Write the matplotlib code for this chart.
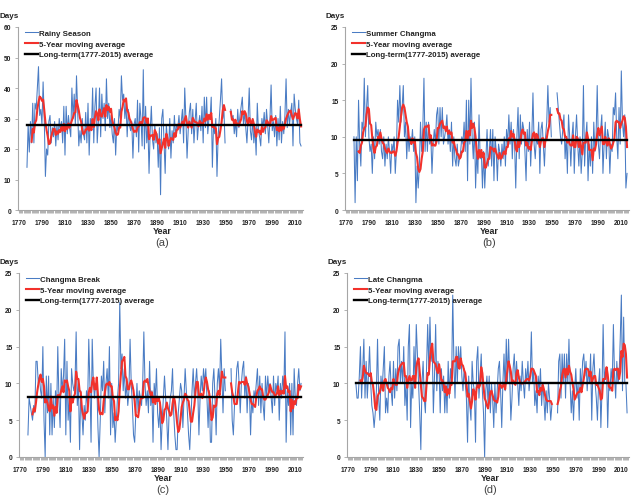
import numpy as np
import pandas as pd
import matplotlib
matplotlib.use("Agg")
import matplotlib.pyplot as plt

plt.rcParams['font.family'] = ['Liberation Sans', 'DejaVu Sans']

start_year = 1777
rainy = [14, 28, 19, 29, 22, 35, 22, 35, 33, 40,
         47, 31, 33, 28, 42, 30, 11, 20, 18, 29,
         31, 22, 27, 24, 29, 21, 28, 23, 30, 26,
         29, 22, 34, 18, 34, 25, 31, 27, 24, 40,
         30, 38, 28, 44, 32, 21, 26, 22, 30, 25,
         23, 32, 22, 35, 18, 30, 26, 40, 22, 34,
         40, 22, 29, 40, 24, 38, 30, 35, 26, 43,
         30, 35, 27, 31, 25, 22, 30, 18, 28, 26,
         33, 30, 44, 36, 38, 30, 35, 24, 33, 28,
         26, 29, 17, 28, 30, 24, 36, 19, 35, 30,
         21, 46, 20, 34, 22, 28, 12, 26, 34, 23,
         20, 28, 22, 25, 14, 27, 5, 30, 33, 22,
         12, 28, 23, 20, 30, 17, 26, 22, 31, 24,
         28, 27, 31, 25, 29, 33, 22, 40, 30, 17,
         26, 32, 35, 25, 33, 22, 29, 35, 23, 28,
         31, 26, 34, 22, 37, 27, 37, 25, 30, 30,
         37, 14, 28, 25, 30, 11, 24, 30, 36, 43,
         30, 33, 22, np.nan, np.nan, np.nan, np.nan, 33, 30, 31,
         25, 29, 24, 33, 27, 31, 34, 37, 28, 32,
         27, 22, 30, 40, 26, 23, 30, 22, 27, 18,
         35, 26, 24, 21, 30, 27, 32, 25, 33, 28,
         22, 30, 41, 26, 29, 24, 31, 21, 30, 23,
         34, 22, 29, 25, 31, 43, 27, 33, 28, 32,
         35, 21, 38, 33, 30, 28, 36, 22, 21]

summer = [10, 1, 10, 4, 15, 9, 6, 12, 11, 18,
          10, 14, 17, 10, 8, 9, 5, 10, 7, 12,
          10, 11, 9, 11, 8, 7, 10, 6, 9, 7,
          10, 8, 5, 9, 8, 10, 5, 8, 15, 12,
          17, 12, 14, 17, 10, 12, 7, 11, 8, 10,
          9, 11, 8, 10, 1, 6, 3, 6, 12, 8,
          11, 18, 8, 12, 8, 12, 9, 10, 5, 9,
          11, 9, 13, 14, 9, 14, 10, 14, 9, 10,
          11, 13, 9, 11, 8, 12, 6, 10, 7, 6,
          9, 6, 7, 8, 10, 9, 12, 8, 15, 4,
          15, 9, 18, 10, 7, 12, 3, 8, 5, 13,
          7, 8, 3, 8, 3, 7, 11, 6, 8, 11,
          6, 11, 4, 10, 8, 4, 9, 8, 6, 9,
          7, 10, 6, 11, 9, 13, 9, 12, 7, 11,
          9, 3, 10, 14, 7, 13, 9, 12, 11, 8,
          4, 11, 8, 12, 6, 10, 16, 9, 7, 10,
          9, 12, 5, 11, 12, 9, 6, 10, 12, 17,
          12, 14, 10, np.nan, np.nan, np.nan, np.nan, 16, 14, 12,
          10, 9, 11, 13, 7, 10, 5, 13, 10, 6,
          10, 12, 5, 10, 13, 9, 6, 10, 5, 8,
          17, 6, 10, 12, 4, 9, 6, 10, 5, 12,
          8, 10, 17, 9, 7, 11, 13, 5, 9, 12,
          7, 11, 10, 5, 9, 8, 14, 13, 16, 10,
          7, 14, 9, 19, 12, 10, 13, 3, 5]

brk = [3, 8, 7, 6, 5, 7, 6, 13, 13, 10,
       11, 9, 8, 15, 5, 0, 11, 6, 11, 3,
       10, 3, 8, 4, 9, 6, 15, 8, 4, 12,
       9, 11, 16, 3, 13, 5, 8, 2, 12, 10,
       9, 10, 17, 7, 10, 1, 9, 6, 3, 7,
       5, 9, 7, 16, 10, 2, 16, 10, 8, 10,
       10, 4, 0, 5, 11, 9, 13, 6, 10, 12,
       8, 15, 3, 10, 4, 6, 2, 5, 8, 10,
       21, 12, 14, 9, 12, 8, 10, 7, 9, 16,
       10, 7, 3, 2, 6, 10, 6, 9, 8, 7,
       10, 17, 10, 7, 9, 6, 13, 7, 9, 2,
       10, 8, 12, 6, 4, 7, 1, 5, 8, 11,
       8, 5, 1, 6, 8, 9, 12, 6, 3, 1,
       1, 6, 8, 10, 9, 4, 8, 12, 9, 6,
       3, 1, 5, 9, 12, 8, 10, 12, 9, 3,
       8, 11, 9, 12, 10, 12, 8, 4, 9, 2,
       2, 10, 12, 8, 3, 10, 12, 9, 16, 11,
       6, 12, 9, np.nan, np.nan, np.nan, np.nan, 12, 5, 3,
       7, 9, 12, 13, 10, 6, 10, 12, 13, 8,
       11, 6, 10, 9, 3, 8, 6, 9, 8, 10,
       12, 7, 11, 6, 10, 7, 5, 11, 8, 11,
       9, 10, 8, 6, 11, 7, 10, 9, 11, 5,
       10, 8, 11, 9, 17, 2, 9, 7, 10, 3,
       10, 3, 12, 8, 7, 10, 12, 9, 10]

late = [10, 8, 8, 11, 15, 8, 12, 16, 8, 13,
        8, 11, 15, 10, 7, 6, 4, 6, 9, 16,
        8, 5, 11, 9, 12, 15, 6, 8, 6, 11,
        13, 9, 7, 13, 8, 12, 9, 15, 16, 10,
        13, 10, 15, 7, 10, 5, 15, 18, 4, 10,
        8, 15, 10, 18, 14, 10, 6, 1, 10, 13,
        8, 6, 12, 18, 12, 19, 13, 15, 6, 11,
        18, 9, 13, 12, 6, 12, 9, 11, 6, 10,
        6, 13, 8, 12, 10, 22, 13, 8, 15, 10,
        15, 12, 15, 11, 9, 12, 10, 8, 2, 11,
        7, 5, 13, 10, 9, 2, 13, 15, 8, 11,
        14, 9, 6, 0, 9, 11, 7, 11, 6, 10,
        8, 4, 10, 6, 9, 12, 13, 9, 4, 10,
        14, 9, 16, 10, 16, 11, 5, 8, 12, 14,
        10, 13, 10, 7, 11, 9, 13, 10, 8, 12,
        10, 13, 9, 11, 17, 10, 12, 7, 9, 6,
        11, 9, 12, 7, 10, 8, 5, 9, 6, 10,
        8, 5, 7, np.nan, np.nan, np.nan, np.nan, 6, 13, 14,
        8, 14, 10, 14, 8, 14, 10, 16, 10, 6,
        9, 5, 9, 12, 8, 10, 5, 12, 9, 13,
        14, 11, 13, 9, 12, 10, 14, 5, 12, 14,
        10, 8, 5, 10, 12, 4, 9, 18, 10, 12,
        12, 4, 10, 9, 12, 10, 18, 11, 8, 13,
        10, 11, 16, 22, 9, 19, 10, 10, 6]

series_names = ["Rainy Season", "Summer Changma", "Changma Break", "Late Changma"]
long_term_avg = [27.8, 9.5, 8.1, 10.1]
y_max = [60, 25, 25, 25]
y_step = [10, 5, 5, 5]
panel_tags = ["(a)", "(b)", "(c)", "(d)"]
x_tick_labels = list(range(1770, 2011, 20))

BLUE = "#4A7CC4"
RED = "#F2312B"
GREY = "#A6A6A6"

W, H = 634, 502
fig = plt.figure(figsize=(W / 100, H / 100), dpi=100)

# axes boxes in pixels: left, right, top, bottom
boxes = [(18, 303, 28, 211), (345, 629, 28, 211),
         (19, 303, 274, 458), (347, 629, 274, 458)]

all_data = [rainy, summer, brk, late]
for i, (vals, name) in enumerate(zip(all_data, series_names)):
    l, r, t, b = boxes[i]
    ax = fig.add_axes([l / W, 1 - b / H, (r - l) / W, (b - t) / H])
    years = np.arange(start_year, start_year + len(vals))
    s = pd.Series(vals, index=years, dtype=float)
    # trailing 5-point moving average over the available (non-blank) years
    ma = s.dropna().rolling(5).mean().reindex(years)

    ax.plot(years, s.values, color=BLUE, lw=0.75, label=name, zorder=2)
    ax.plot(years, ma.values, color=RED, lw=1.5, label="5-Year moving average", zorder=3)
    ax.plot([years[0], years[-1]], [long_term_avg[i]] * 2, color="black", lw=1.7,
            label="Long-term(1777-2015) average", zorder=4)

    ax.set_xlim(1769.2, 2016.7)
    ax.set_ylim(0, y_max[i])
    ax.set_yticks(np.arange(0, y_max[i] + 1, y_step[i]))
    ax.set_xticks(x_tick_labels)
    ax.set_xticks(np.arange(1770, 2017, 1), minor=True)
    for sp in ["top", "right"]:
        ax.spines[sp].set_visible(False)
    for sp in ["left", "bottom"]:
        ax.spines[sp].set_color(GREY)
        ax.spines[sp].set_linewidth(0.8)
    ax.tick_params(axis="both", which="both", color=GREY, width=0.6, length=2.2,
                   labelsize=4.8, pad=2.5)
    ax.tick_params(axis="x", which="major", pad=4.5)
    for lab in ax.get_xticklabels() + ax.get_yticklabels():
        lab.set_fontweight("bold")
        lab.set_color("#222222")

    leg = ax.legend(loc="upper left", bbox_to_anchor=(0.02, 0.995), frameon=False,
                    prop={"size": 5.7, "weight": "bold"}, handlelength=1.6,
                    handletextpad=0.15, labelspacing=0.4, borderaxespad=0,
                    borderpad=0.2)
    for txt in leg.get_texts():
        txt.set_color("#222222")

    # axis titles
    fig.text((l - 19) / W, 1 - (t - 11) / H, "Days", fontsize=5.8, fontweight="bold",
             ha="left", va="center", color="#222222")
    cx = (l + r) / 2 + 2
    fig.text(cx / W, 1 - (b + 21) / H, "Year", fontsize=6.4, fontweight="bold",
             ha="center", va="center", color="#222222")
    fig.text(cx / W, 1 - (b + 32) / H, panel_tags[i], fontsize=8, ha="center",
             va="center", color="#444444")

fig.savefig("out.png", dpi=100)
